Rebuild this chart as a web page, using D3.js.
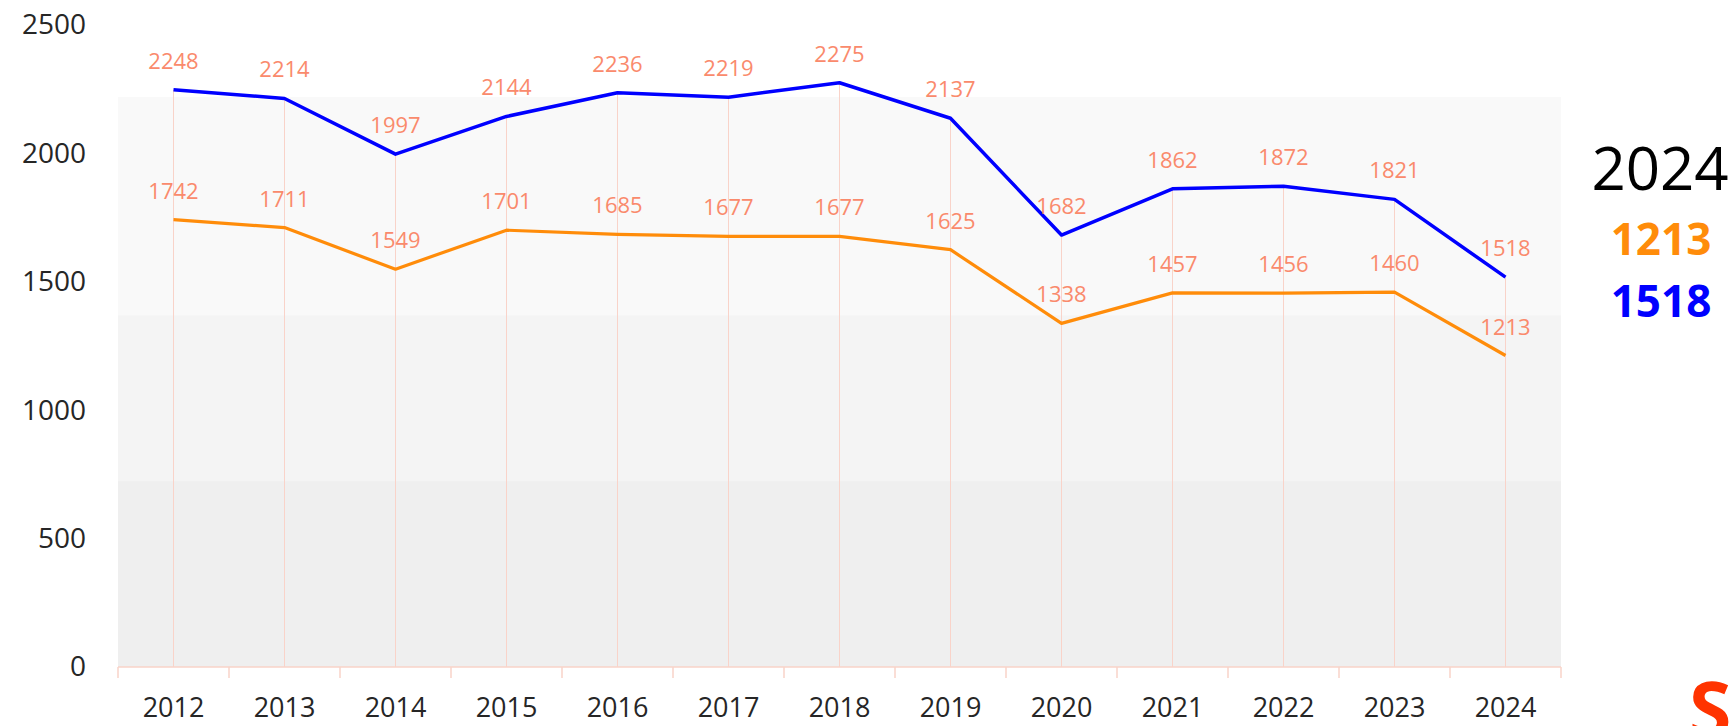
<!DOCTYPE html>
<html>
<head>
<meta charset="utf-8">
<script src="https://cdn.jsdelivr.net/npm/d3@7"></script>
<style>
  body { margin: 0; background: #fff; }
  svg { display: block; font-family: "Open Sans", sans-serif; }
</style>
</head>
<body>
<script>
	// Dados
	var anos = ["2012", "2013", "2014", "2015", "2016", "2017", "2018", "2019", "2020", "2021", "2022", "2023", "2024"];
	var serieAzul = [2248, 2214, 1997, 2144, 2236, 2219, 2275, 2137, 1682, 1862, 1872, 1821, 1518];
	var serieLaranja = [1742, 1711, 1549, 1701, 1685, 1677, 1677, 1625, 1338, 1457, 1456, 1460, 1213];
	var yTicks = [0, 500, 1000, 1500, 2000, 2500];
	var anoDestaque = "2024";

	var width = 1734;
	var height = 726;

	var corAzul = "#0000ff";
	var corLaranja = "#ff8c0a";
	var corRotulo = "#fa8a6c";
	var corGrade = "#f9d3c9";

	// Escalas
	var xScale = d3.scaleBand().domain(anos).range([118, 1561]);
	var yScale = d3.scaleLinear().domain([0, 2500]).range([667, 25]);
	var meio = xScale.bandwidth() / 2;

	// SVG
	var mySVG = d3.select("body").append("svg")
		.attr("width", width)
		.attr("height", height);

	// Fundo da area do grafico (degrade em faixas)
	var faixas = [[2220, 1370, "#f9f9f9"], [1370, 724, "#f4f4f4"], [724, 0, "#efefef"]];
	mySVG.selectAll(".faixa")
		.data(faixas)
		.enter()
		.append("rect")
		.attr("class", "faixa")
		.attr("x", xScale.range()[0])
		.attr("width", xScale.range()[1] - xScale.range()[0])
		.attr("y", function(d){ return yScale(d[0]); })
		.attr("height", function(d){ return yScale(d[1]) - yScale(d[0]); })
		.attr("fill", function(d){ return d[2]; });

	// Linhas de queda (do maior valor ate o eixo)
	mySVG.selectAll(".queda")
		.data(anos)
		.enter()
		.append("line")
		.attr("class", "queda")
		.attr("x1", function(d){ return xScale(d) + meio; })
		.attr("x2", function(d){ return xScale(d) + meio; })
		.attr("y1", function(d, i){ return yScale(Math.max(serieAzul[i], serieLaranja[i])); })
		.attr("y2", yScale(0))
		.attr("stroke", corGrade)
		.attr("stroke-width", 1);

	// Eixo x: linha e marcas nas divisoes
	mySVG.append("line")
		.attr("x1", xScale.range()[0])
		.attr("x2", xScale.range()[1])
		.attr("y1", yScale(0))
		.attr("y2", yScale(0))
		.attr("stroke", corGrade)
		.attr("stroke-width", 1.5);
	var divisoes = anos.map(function(d){ return xScale(d); }).concat([xScale.range()[1]]);
	mySVG.selectAll(".divisao")
		.data(divisoes)
		.enter()
		.append("line")
		.attr("class", "divisao")
		.attr("x1", function(d){ return d; })
		.attr("x2", function(d){ return d; })
		.attr("y1", yScale(0))
		.attr("y2", yScale(0) + 11)
		.attr("stroke", corGrade)
		.attr("stroke-width", 1.5);

	// Eixos (rotulos)
	var xAxis = d3.axisBottom(xScale).tickSize(0).tickPadding(31);
	var xAxisGroup = mySVG.append("g")
		.attr("class", "xAxis")
		.attr("transform", "translate(0," + yScale(0) + ")")
		.call(xAxis);
	xAxisGroup.select(".domain").remove();
	xAxisGroup.selectAll("text")
		.attr("font-family", "Open Sans")
		.attr("font-size", 27)
		.attr("fill", "#262626");

	var yAxis = d3.axisLeft(yScale).tickValues(yTicks).tickFormat(d3.format("d")).tickSize(0).tickPadding(0);
	var yAxisGroup = mySVG.append("g")
		.attr("class", "yAxis")
		.attr("transform", "translate(86,0)")
		.call(yAxis);
	yAxisGroup.select(".domain").remove();
	yAxisGroup.selectAll("text")
		.attr("font-family", "Open Sans")
		.attr("font-size", 28)
		.attr("fill", "#262626");

	// Linhas
	var myLine = d3.line()
		.curve(d3.curveLinear)
		.x(function(d, i){ return xScale(anos[i]) + meio; })
		.y(function(d){ return yScale(d); });

	mySVG.append("path")
		.datum(serieLaranja)
		.attr("fill", "none")
		.attr("stroke", corLaranja)
		.attr("stroke-width", 3.2)
		.attr("stroke-linejoin", "round")
		.attr("d", myLine);
	mySVG.append("path")
		.datum(serieAzul)
		.attr("fill", "none")
		.attr("stroke", corAzul)
		.attr("stroke-width", 3.5)
		.attr("stroke-linejoin", "round")
		.attr("d", myLine);

	// Rotulos dos valores
	[serieAzul, serieLaranja].forEach(function(serie){
		mySVG.append("g")
			.selectAll("text")
			.data(serie)
			.enter()
			.append("text")
			.attr("x", function(d, i){ return xScale(anos[i]) + meio; })
			.attr("y", function(d){ return yScale(d) - 21; })
			.attr("text-anchor", "middle")
			.attr("font-size", 22)
			.attr("fill", corRotulo)
			.text(function(d){ return d; });
	});

	// Destaque do ultimo ano
	var ultimo = anos.indexOf(anoDestaque);
	mySVG.append("text")
		.attr("x", 1660)
		.attr("y", 190)
		.attr("text-anchor", "middle")
		.attr("font-size", 60)
		.attr("fill", "#000")
		.text(anoDestaque);
	mySVG.append("text")
		.attr("x", 1661)
		.attr("y", 255)
		.attr("text-anchor", "middle")
		.attr("font-size", 44)
		.attr("font-weight", "bold")
		.attr("fill", corLaranja)
		.text(serieLaranja[ultimo]);
	mySVG.append("text")
		.attr("x", 1661)
		.attr("y", 317)
		.attr("text-anchor", "middle")
		.attr("font-size", 44)
		.attr("font-weight", "bold")
		.attr("fill", corAzul)
		.text(serieAzul[ultimo]);

	// Logo cortado no canto
	mySVG.append("text")
		.attr("x", 1689)
		.attr("y", 737)
		.attr("font-size", 77)
		.attr("font-weight", "bold")
		.attr("fill", "#ff3300")
		.text("S");
</script>
</body>
</html>
